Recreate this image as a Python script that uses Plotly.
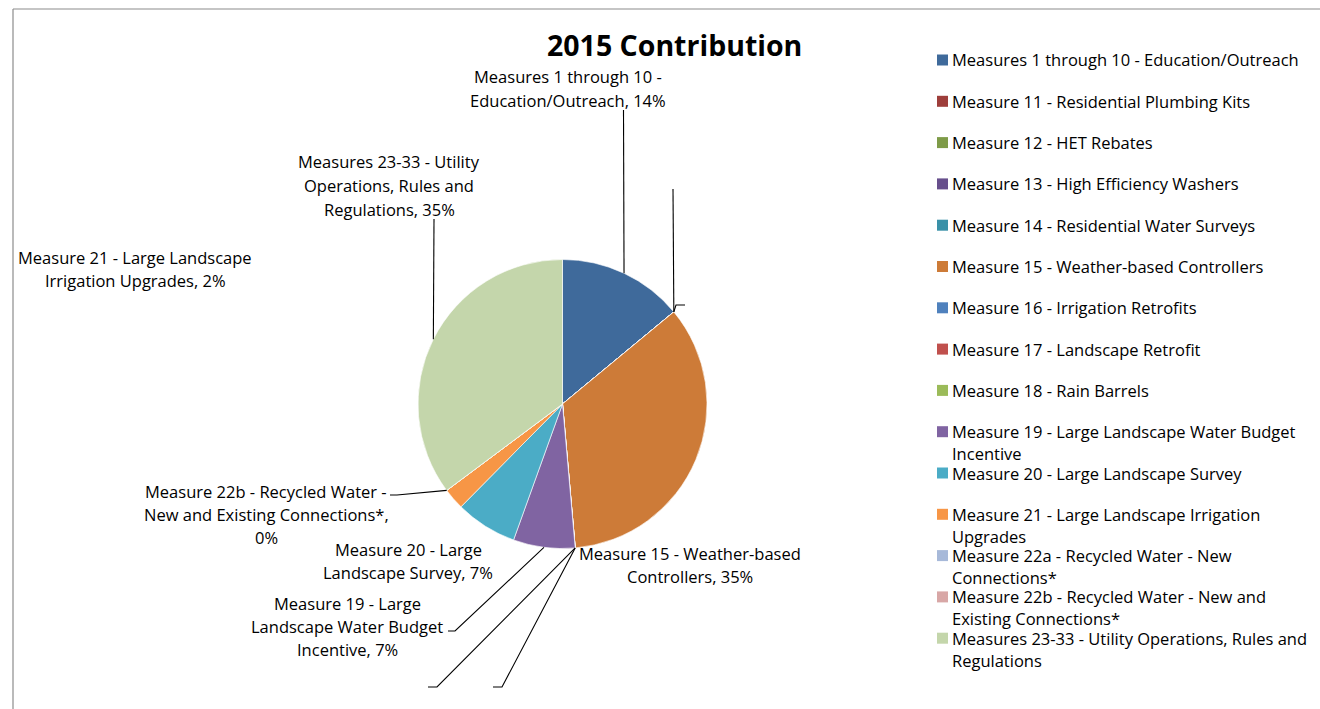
import math
import plotly.graph_objects as go

# ---- data -------------------------------------------------------------
measures = [
    "Measures 1 through 10 - Education/Outreach",
    "Measure 11 - Residential Plumbing Kits",
    "Measure 12 - HET Rebates",
    "Measure 13 - High Efficiency Washers",
    "Measure 14 - Residential Water Surveys",
    "Measure 15 - Weather-based Controllers",
    "Measure 16 - Irrigation Retrofits",
    "Measure 17 - Landscape Retrofit",
    "Measure 18 - Rain Barrels",
    "Measure 19 - Large Landscape Water Budget Incentive",
    "Measure 20 - Large Landscape Survey",
    "Measure 21 - Large Landscape Irrigation Upgrades",
    "Measure 22a - Recycled Water - New Connections*",
    "Measure 22b - Recycled Water - New and Existing Connections*",
    "Measures 23-33 - Utility Operations, Rules and Regulations",
]
share_2015 = [14.0, 0, 0, 0, 0, 34.6, 0, 0, 0, 6.9, 6.9, 2.4, 0, 0, 35.2]

colors = [
    "#3F6A9B", "#9E3E3B", "#7E9B48", "#674F8C", "#3A91A8",
    "#CD7B38", "#4F81BD", "#C0504D", "#9BBB59", "#8064A2",
    "#4BACC6", "#F79646", "#A7B9D9", "#D8A7A6", "#C4D6AB",
]

# legend text, wrapped as it appears next to the chart
legend_lines = [
    ["Measures 1 through 10 - Education/Outreach"],
    ["Measure 11 - Residential Plumbing Kits"],
    ["Measure 12 - HET Rebates"],
    ["Measure 13 - High Efficiency Washers"],
    ["Measure 14 - Residential Water Surveys"],
    ["Measure 15 - Weather-based Controllers"],
    ["Measure 16 - Irrigation Retrofits"],
    ["Measure 17 - Landscape Retrofit"],
    ["Measure 18 - Rain Barrels"],
    ["Measure 19 - Large Landscape Water Budget", "Incentive"],
    ["Measure 20 - Large Landscape Survey"],
    ["Measure 21 - Large Landscape Irrigation", "Upgrades"],
    ["Measure 22a - Recycled Water - New", "Connections*"],
    ["Measure 22b - Recycled Water - New and", "Existing Connections*"],
    ["Measures 23-33 - Utility Operations, Rules and", "Regulations"],
]

# data-label wrapping; the percentage goes after the final line
label_wrap = {
    0: ["Measures 1 through 10 -", "Education/Outreach, "],
    5: ["Measure 15 - Weather-based", "Controllers, "],
    9: ["Measure 19 - Large", "Landscape Water Budget", "Incentive, "],
    10: ["Measure 20 - Large", "Landscape Survey, "],
    11: ["Measure 21 - Large Landscape", "Irrigation Upgrades, "],
    13: ["Measure 22b - Recycled Water -", "New and Existing Connections*,", ""],
    14: ["Measures 23-33 - Utility", "Operations, Rules and", "Regulations, "],
}

# ---- layout geometry (pixels) ----------------------------------------
W, H = 1320, 709
CX, CY, R = 562.5, 404.0, 144.5
FONT = "'Open Sans', Calibri, sans-serif"
TXT = "#000000"
FS = 16.5

# label block placement: (center x, first-line y, line step)
label_pos = {
    0: (568, 76, 24),
    5: (690, 553, 23),
    9: (347, 603, 23),
    10: (408, 549, 23),
    11: (135, 257, 23),
    13: (266, 491, 23),
    14: (389, 162, 23.5),
}
# leader-line elbows for each label (pixel points beyond the slice edge)
leader_path = {
    0: [(623.5, 110)],
    9: [(455, 631), (448, 631)],
    13: [(397, 495), (390, 495)],
    14: [(434, 219)],
}
# leader lines of zero-size slices whose labels fall outside the chart
zero_leaders = {
    1: [(673, 189)],
    2: [(676, 305), (685, 305)],
    6: [(502, 687), (493, 687)],
    7: [(437, 687), (428, 687)],
}


def px(x):
    return x / W


def py(y):
    return 1 - y / H


total = sum(share_2015)
starts = []
acc = 0.0
for v in share_2015:
    starts.append(acc)
    acc += v


def edge_point(idx):
    mid = (starts[idx] + share_2015[idx] / 2) / total * 360.0
    a = math.radians(mid)
    return CX + R * math.sin(a), CY - R * math.cos(a)


fig = go.Figure(
    go.Pie(
        labels=measures,
        values=share_2015,
        sort=False,
        direction="clockwise",
        rotation=0,
        marker=dict(colors=colors, line=dict(color="#FFFFFF", width=0.6)),
        textinfo="none",
        hoverinfo="label+percent",
        showlegend=False,
        domain=dict(x=[px(CX - R), px(CX + R)], y=[py(CY + R), py(CY - R)]),
    )
)

shapes = []
annotations = []

# chart-area border (top and left edges visible)
shapes.append(dict(type="line", xref="paper", yref="paper",
                   x0=px(13), y0=py(9), x1=1.01, y1=py(9),
                   line=dict(color="#8C8C8C", width=1.2)))
shapes.append(dict(type="line", xref="paper", yref="paper",
                   x0=px(13), y0=py(9), x1=px(13), y1=-0.01,
                   line=dict(color="#8C8C8C", width=1.2)))


def polyline(points):
    d = "M " + " L ".join(f"{px(x):.5f},{py(y):.5f}" for x, y in points)
    shapes.append(dict(type="path", xref="paper", yref="paper", path=d,
                       line=dict(color="#000000", width=1.1)))


# data labels
for idx, lines in label_wrap.items():
    pct = round(share_2015[idx] / total * 100)
    text_lines = list(lines)
    text_lines[-1] = f"{text_lines[-1]}{pct}%"
    x0, y0, step = label_pos[idx]
    for k, t in enumerate(text_lines):
        annotations.append(dict(
            x=px(x0), y=py(y0 + k * step), xref="paper", yref="paper",
            text=t, showarrow=False, xanchor="center", yanchor="middle",
            borderpad=0,
            font=dict(family=FONT, size=FS, color=TXT)))

# leader lines
for idx, pts in leader_path.items():
    polyline([edge_point(idx)] + pts)
for idx, pts in zero_leaders.items():
    polyline([edge_point(idx)] + pts)

# legend
LEG_X, LEG_Y0, LEG_STEP, LEG_WRAP = 951, 60, 41.3, 22
for i, lines in enumerate(legend_lines):
    yc = LEG_Y0 + i * LEG_STEP
    shapes.append(dict(type="rect", xref="paper", yref="paper",
                       x0=px(937), x1=px(948), y0=py(yc - 5.5), y1=py(yc + 5.5),
                       fillcolor=colors[i], line=dict(width=0)))
    for k, t in enumerate(lines):
        annotations.append(dict(
            x=px(LEG_X), y=py(yc + k * LEG_WRAP), xref="paper", yref="paper",
            text=t, showarrow=False, xanchor="left", yanchor="middle",
            borderpad=0,
            font=dict(family=FONT, size=FS, color=TXT)))

# title
annotations.append(dict(
    x=px(674), y=py(45), xref="paper", yref="paper",
    text="<b>2015 Contribution</b>", showarrow=False,
    xanchor="center", yanchor="middle",
    font=dict(family=FONT, size=28.5, color=TXT)))

fig.update_layout(
    width=W, height=H,
    margin=dict(l=0, r=0, t=0, b=0),
    paper_bgcolor="#FFFFFF",
    plot_bgcolor="#FFFFFF",
    shapes=shapes,
    annotations=annotations,
)

fig.write_html("out.html")
